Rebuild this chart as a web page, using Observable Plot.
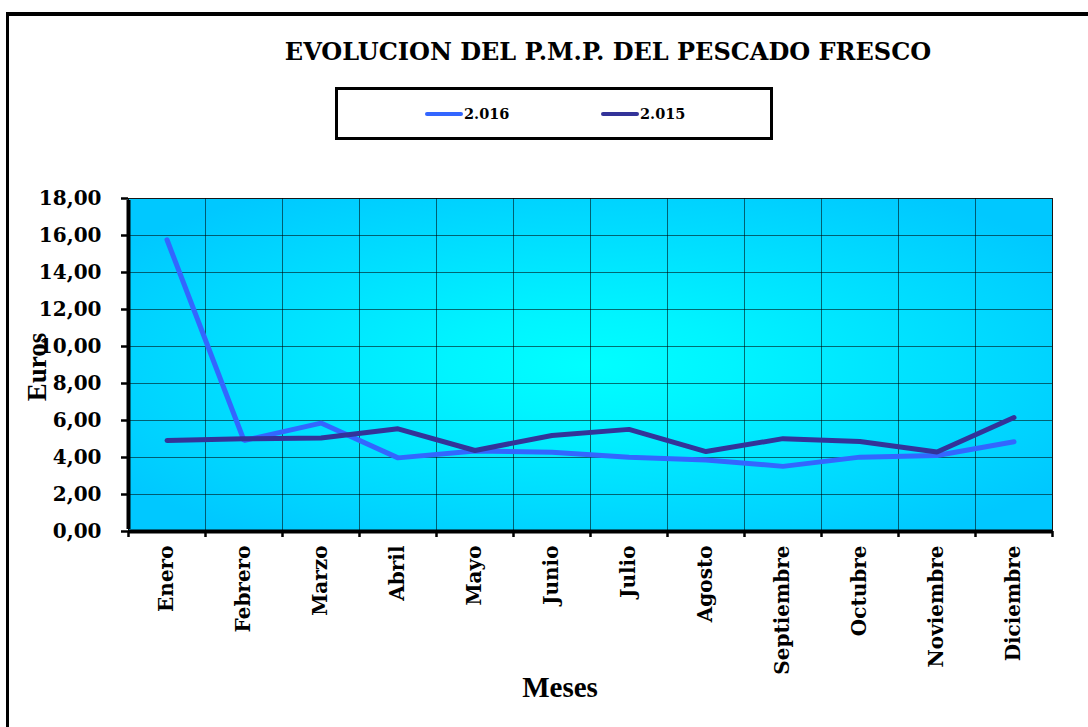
<!DOCTYPE html>
<html>
<head>
<meta charset="utf-8">
<script src="https://cdn.jsdelivr.net/npm/d3@7"></script>
<script src="https://cdn.jsdelivr.net/npm/@observablehq/plot@0.6"></script>
<style>
  html, body { margin: 0; padding: 0; background: #fff; overflow: hidden; }
  #wrap { position: relative; width: 1088px; height: 727px; }
  #outer { position: absolute; left: 6px; top: 12px; width: 1200px; height: 800px; border-left: 3px solid #000; border-top: 4px solid #000; box-sizing: border-box; }
  #title { position: absolute; left: 0; width: 1216px; top: 37px; text-align: center; font: bold 24px "DejaVu Serif", serif; color: #000; white-space: nowrap; }
  #legend { position: absolute; left: 335px; top: 87px; width: 438px; height: 53px; border: 3px solid #000; box-sizing: border-box; background: #fff; }
  .lg { position: absolute; top: 15px; font: bold 14.5px "DejaVu Serif", serif; display: flex; align-items: center; }
  .lg span.sw { display: inline-block; width: 38px; height: 4px; border-radius: 2px; margin-right: 1px; }
  #ylab { position: absolute; left: 37px; top: 367px; transform: translate(-50%, -50%) rotate(-90deg); font: bold 27px "Liberation Serif", serif; white-space: nowrap; }
  #xlab { position: absolute; left: 560px; top: 687px; transform: translate(-50%, -50%); font: bold 29px "Liberation Serif", serif; white-space: nowrap; }
  #chart { position: absolute; left: 0; top: 0; }
</style>
</head>
<body>
<div id="wrap">
  <div id="chart"></div>
  <div id="outer"></div>
  <div id="title">EVOLUCION DEL P.M.P. DEL PESCADO FRESCO</div>
  <div id="legend"></div>
  <div id="ylab">Euros</div>
  <div id="xlab">Meses</div>
</div>
<script>
// ---- data ----
const months = ["Enero","Febrero","Marzo","Abril","Mayo","Junio","Julio","Agosto","Septiembre","Octubre","Noviembre","Diciembre"];
const series = ["2.016", "2.015"];
const values2016 = [15.77, 4.92, 5.86, 3.98, 4.35, 4.28, 4.02, 3.87, 3.52, 4.02, 4.11, 4.85];
const values2015 = [4.92, 5.01, 5.05, 5.55, 4.38, 5.19, 5.52, 4.32, 5.02, 4.87, 4.30, 6.16];
const yTicks = [0, 2, 4, 6, 8, 10, 12, 14, 16, 18];
const colors = {"2.016": "#3366ff", "2.015": "#333399"};

const rows = [];
months.forEach((m, i) => {
  rows.push({month: m, idx: i, year: "2.016", value: values2016[i]});
  rows.push({month: m, idx: i, year: "2.015", value: values2015[i]});
});
const boundaries = d3.range(0, months.length + 1);
const fmt = d => d.toFixed(2).replace(".", ",");

const chart = Plot.plot({
  width: 1088,
  height: 727,
  marginLeft: 128,
  marginRight: 36,
  marginTop: 198,
  marginBottom: 196,
  style: {background: "transparent", overflow: "visible"},
  x: {type: "linear", domain: [0, months.length], axis: null, label: null},
  y: {domain: [0, 18], axis: null, label: null},
  marks: [
    Plot.frame({fill: "#00d8ff", stroke: "#333", strokeWidth: 1}),
    Plot.gridY(yTicks, {stroke: "#000", strokeOpacity: 0.55, strokeWidth: 1}),
    Plot.gridX(boundaries, {stroke: "#000", strokeOpacity: 0.55, strokeWidth: 1}),
    Plot.axisY(yTicks, {label: null, tickSize: 7, tickPadding: 20, tickFormat: fmt, fontSize: 20, fontWeight: "bold", fontFamily: "DejaVu Serif", strokeWidth: 2.5, color: "#000"}),
    Plot.axisX(boundaries, {label: null, tickSize: 6, tickFormat: () => "", strokeWidth: 2.5, color: "#000"}),
    Plot.text(months, {x: (d, i) => i + 0.5, y: () => 0, text: d => d, rotate: -90, textAnchor: "end", dy: 14, fontSize: 20, fontWeight: "bold", fontFamily: "DejaVu Serif", fill: "#000"}),
    Plot.ruleX([0], {y1: 0, y2: 18, stroke: "#000", strokeWidth: 4, insetTop: -2, insetBottom: -2}),
    Plot.ruleY([0], {x1: 0, x2: months.length, stroke: "#000", strokeWidth: 4}),
    Plot.line(rows.filter(d => d.year === "2.016"), {x: d => d.idx + 0.5, y: "value", stroke: colors["2.016"], strokeWidth: 5, strokeLinecap: "round", strokeLinejoin: "miter"}),
    Plot.line(rows.filter(d => d.year === "2.015"), {x: d => d.idx + 0.5, y: "value", stroke: colors["2.015"], strokeWidth: 5, strokeLinecap: "round", strokeLinejoin: "miter"})
  ]
});

// radial gradient background for the plot area
const svg = d3.select(chart);
const defs = svg.insert("defs", ":first-child");
const grad = defs.append("radialGradient").attr("id", "bg").attr("cx", "0.5").attr("cy", "0.5").attr("r", "0.62");
grad.append("stop").attr("offset", "0").attr("stop-color", "#00ffff");
grad.append("stop").attr("offset", "0.25").attr("stop-color", "#00f4ff");
grad.append("stop").attr("offset", "1").attr("stop-color", "#00c8ff");
let fr = chart.querySelector('[aria-label="frame"]');
if (fr) {
  const rect = fr.tagName.toLowerCase() === "rect" ? fr : fr.querySelector("rect");
  if (rect) rect.setAttribute("fill", "url(#bg)");
}
document.getElementById("chart").appendChild(chart);

// legend
const lg = document.getElementById("legend");
const lpos = {"2.016": 87, "2.015": 263};
series.forEach(s => {
  const item = document.createElement("div");
  item.className = "lg";
  item.style.left = lpos[s] + "px";
  const sw = document.createElement("span");
  sw.className = "sw";
  sw.style.background = colors[s];
  item.appendChild(sw);
  item.appendChild(document.createTextNode(s));
  lg.appendChild(item);
});
</script>
</body>
</html>
